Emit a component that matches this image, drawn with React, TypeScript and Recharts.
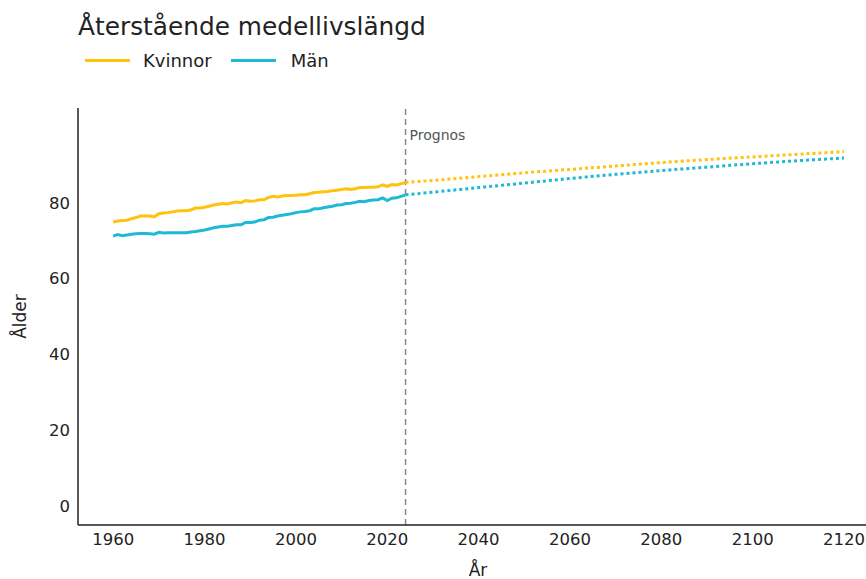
import React from 'react';
import { LineChart, Line, XAxis, YAxis, ReferenceLine } from 'recharts';

const histYears = [
  1960, 1961, 1962, 1963, 1964, 1965, 1966, 1967, 1968, 1969,
  1970, 1971, 1972, 1973, 1974, 1975, 1976, 1977, 1978, 1979,
  1980, 1981, 1982, 1983, 1984, 1985, 1986, 1987, 1988, 1989,
  1990, 1991, 1992, 1993, 1994, 1995, 1996, 1997, 1998, 1999,
  2000, 2001, 2002, 2003, 2004, 2005, 2006, 2007, 2008, 2009,
  2010, 2011, 2012, 2013, 2014, 2015, 2016, 2017, 2018, 2019,
  2020, 2021, 2022, 2023, 2024,
];
const histWomen = [
  74.9, 75.2, 75.3, 75.4, 75.8, 76.1, 76.5, 76.5, 76.5, 76.3,
  77.1, 77.3, 77.4, 77.6, 77.8, 77.9, 77.9, 78.1, 78.6, 78.6,
  78.8, 79.1, 79.4, 79.6, 79.8, 79.7, 80.0, 80.2, 80.0, 80.6,
  80.4, 80.5, 80.8, 80.8, 81.4, 81.7, 81.5, 81.8, 81.9, 81.9,
  82.0, 82.1, 82.1, 82.4, 82.7, 82.8, 82.9, 83.0, 83.2, 83.3,
  83.5, 83.7, 83.5, 83.7, 84.0, 84.0, 84.1, 84.1, 84.2, 84.7,
  84.3, 84.8, 84.7, 85.0, 85.4,
];
const histMen = [
  71.2, 71.6, 71.3, 71.5, 71.7, 71.8, 71.9, 71.9, 71.8, 71.7,
  72.2, 72.0, 72.1, 72.1, 72.1, 72.1, 72.1, 72.3, 72.4, 72.6,
  72.8, 73.1, 73.4, 73.6, 73.8, 73.8, 74.0, 74.2, 74.2, 74.8,
  74.8, 74.9, 75.4, 75.5, 76.1, 76.2, 76.5, 76.7, 76.9, 77.1,
  77.4, 77.6, 77.7, 77.9, 78.4, 78.4, 78.7, 78.9, 79.1, 79.4,
  79.5, 79.8, 79.9, 80.1, 80.4, 80.3, 80.6, 80.7, 80.8, 81.3,
  80.6, 81.2, 81.3, 81.7, 82.1,
];

const progYears = [2024, 2030, 2040, 2050, 2060, 2070, 2080, 2090, 2100, 2110, 2120];
const progWomen = [85.4, 85.9, 86.9, 87.9, 88.8, 89.7, 90.6, 91.4, 92.1, 92.8, 93.5];
const progMen = [82.1, 82.8, 84.0, 85.2, 86.4, 87.5, 88.5, 89.4, 90.3, 91.1, 91.8];

const xTicks = [1960, 1980, 2000, 2020, 2040, 2060, 2080, 2100, 2120];
const yTicks = [0, 20, 40, 60, 80];

const WOMEN = '#FFC20E';
const MEN = '#1EB9D5';
const FONT = '"DejaVu Sans", Verdana, sans-serif';

const allYears = Array.from(new Set([...histYears, ...progYears])).sort((a, b) => a - b);
const data = allYears.map((year) => {
  const hi = histYears.indexOf(year);
  const pi = progYears.indexOf(year);
  return {
    year,
    wHist: hi >= 0 ? histWomen[hi] : null,
    mHist: hi >= 0 ? histMen[hi] : null,
    wProg: pi >= 0 ? progWomen[pi] : null,
    mProg: pi >= 0 ? progMen[pi] : null,
  };
});

const PrognosLabel = (props: any) => {
  const vb = props.viewBox || {};
  return (
    <text x={(vb.x || 0) + 4} y={(vb.y || 0) + 32} fill="#555" fontSize={14} fontFamily={FONT}>
      Prognos
    </text>
  );
};

export default function App() {
  return (
    <div style={{ position: 'absolute', left: 0, top: 0, width: 866, height: 579, background: '#fff', fontFamily: FONT }}>
      <div style={{ position: 'absolute', left: 78, top: 12, fontSize: 24.8, color: '#222', whiteSpace: 'nowrap', lineHeight: '30px' }}>
        Återstående medellivslängd
      </div>
      <div style={{ position: 'absolute', left: 85, top: 50, height: 20, display: 'flex', alignItems: 'center', fontSize: 18, color: '#222', whiteSpace: 'nowrap' }}>
        <span style={{ display: 'inline-block', width: 45, height: 3, background: WOMEN }} />
        <span style={{ marginLeft: 13 }}>Kvinnor</span>
        <span style={{ display: 'inline-block', width: 45, height: 3, background: MEN, marginLeft: 19 }} />
        <span style={{ marginLeft: 15 }}>Män</span>
      </div>
      <LineChart width={866} height={579} data={data} margin={{ top: 108, right: 0, bottom: 0, left: 0 }}>
        <XAxis
          dataKey="year"
          type="number"
          domain={[1952.3, 2124.8]}
          ticks={xTicks}
          allowDataOverflow
          height={54}
          tickLine={false}
          axisLine={{ stroke: '#222', strokeWidth: 1.5 }}
          tick={{ fill: '#222', fontSize: 16.5, fontFamily: FONT }}
          label={{ value: 'År', position: 'insideBottom', offset: 3, dx: 6, fill: '#222', fontSize: 17, fontFamily: FONT }}
        />
        <YAxis
          type="number"
          domain={[-5, 105]}
          ticks={yTicks}
          allowDataOverflow
          width={78}
          tickLine={false}
          axisLine={{ stroke: '#222', strokeWidth: 1.5 }}
          tick={{ fill: '#222', fontSize: 16.5, fontFamily: FONT }}
          label={{ value: 'Ålder', angle: -90, position: 'insideLeft', offset: 20, fill: '#222', fontSize: 17, fontFamily: FONT, style: { textAnchor: 'middle' } }}
        />
        <ReferenceLine x={2024} stroke="#888" strokeWidth={1.5} strokeDasharray="6 4" label={<PrognosLabel />} />
        <Line dataKey="wHist" stroke={WOMEN} strokeWidth={3} dot={false} isAnimationActive={false} connectNulls type="linear" />
        <Line dataKey="mHist" stroke={MEN} strokeWidth={3} dot={false} isAnimationActive={false} connectNulls type="linear" />
        <Line dataKey="wProg" stroke={WOMEN} strokeWidth={3} strokeDasharray="3 3" dot={false} isAnimationActive={false} connectNulls type="monotone" />
        <Line dataKey="mProg" stroke={MEN} strokeWidth={3} strokeDasharray="3 3" dot={false} isAnimationActive={false} connectNulls type="monotone" />
      </LineChart>
    </div>
  );
}
